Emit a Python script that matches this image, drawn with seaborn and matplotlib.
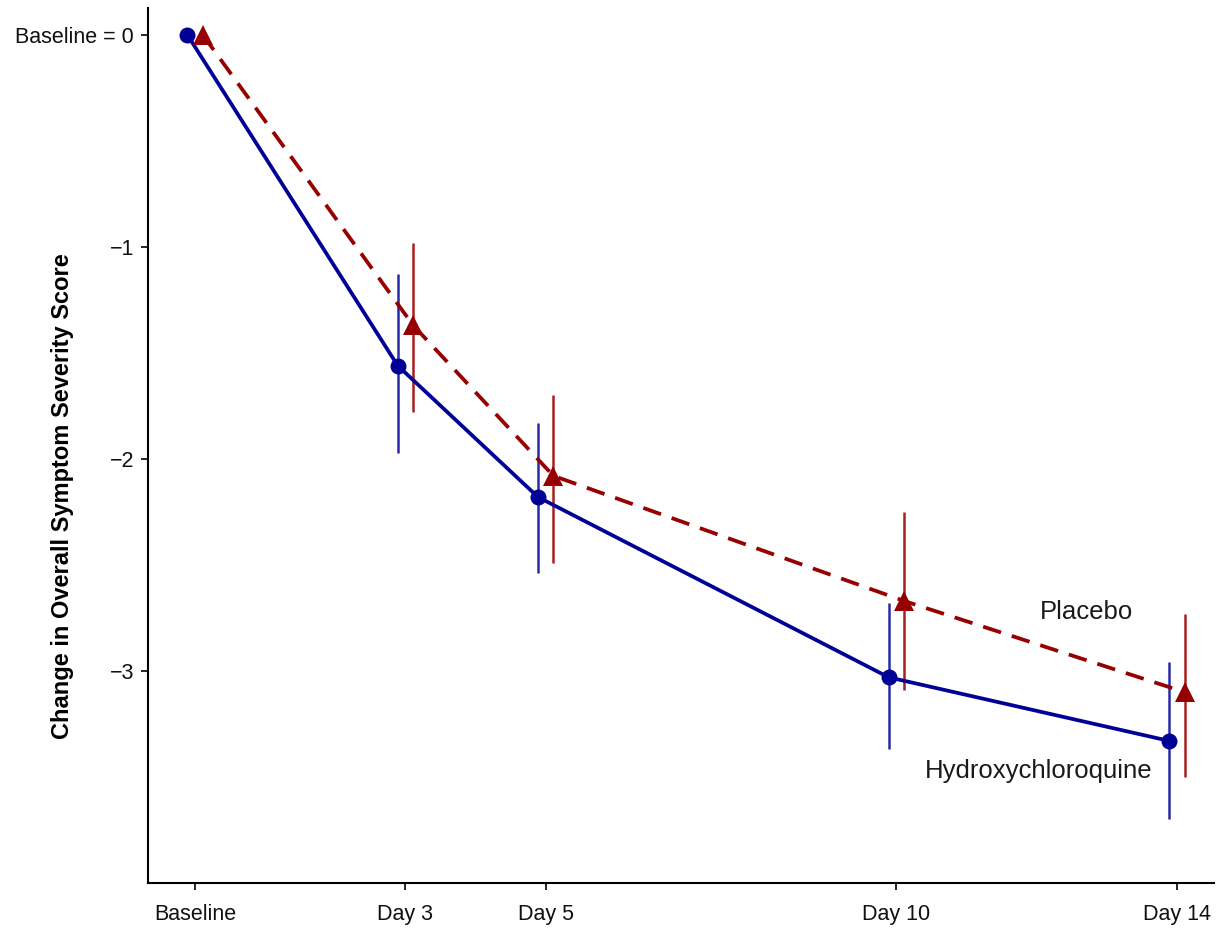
import numpy as np
import pandas as pd
import seaborn as sns
from matplotlib import pyplot as plt

# === DATA ===
days = [0, 3, 5, 10, 14]
day_labels = ['Baseline', 'Day 3', 'Day 5', 'Day 10', 'Day 14']

hcq_mean = [0.0, -1.56, -2.18, -3.03, -3.33]
hcq_low = [0.0, -1.97, -2.54, -3.37, -3.70]
hcq_high = [0.0, -1.13, -1.83, -2.68, -2.96]

pla_mean = [0.0, -1.37, -2.08, -2.67, -3.10]
pla_low = [0.0, -1.78, -2.49, -3.09, -3.50]
pla_high = [0.0, -0.98, -1.70, -2.25, -2.73]

groups = ['Hydroxychloroquine', 'Placebo']
offset = {'Hydroxychloroquine': -0.11, 'Placebo': 0.11}
colors = {'Hydroxychloroquine': '#000096', 'Placebo': '#960000'}
bar_colors = {'Hydroxychloroquine': '#2a2aa8', 'Placebo': '#a82020'}

frames = []
for g, m, lo, hi in [('Hydroxychloroquine', hcq_mean, hcq_low, hcq_high),
                     ('Placebo', pla_mean, pla_low, pla_high)]:
    frames.append(pd.DataFrame({'group': g, 'day': days, 'mean': m,
                                'low': lo, 'high': hi}))
df = pd.concat(frames, ignore_index=True)
df['x'] = df['day'] + df['group'].map(offset)

# === PLOT ===
sns.set_style('ticks')
plt.rcParams['font.family'] = ['Liberation Sans', 'DejaVu Sans']

fig = plt.figure(figsize=(12.17, 9.32), dpi=100)
ax = fig.add_axes([0.1216, 0.0526, 0.876, 0.939])

for g in groups:
    sub = df[df.group == g]
    ax.vlines(sub['x'][1:], sub['low'][1:], sub['high'][1:],
              color=bar_colors[g], lw=1.8, zorder=2)

sns.lineplot(data=df, x='x', y='mean', hue='group', style='group',
             hue_order=groups, style_order=groups, palette=colors,
             markers={'Hydroxychloroquine': 'o', 'Placebo': '^'},
             dashes={'Hydroxychloroquine': '', 'Placebo': (5, 3)},
             markersize=11.5, markeredgewidth=0, linewidth=2.7,
             legend=False, ax=ax, zorder=3)
for ln in ax.lines:
    if ln.get_marker() == '^':
        ln.set_markersize(15)

ax.text(12.71, -2.72, 'Placebo', fontsize=18.5, ha='center', va='center',
        color='#1a1a1a')
ax.text(12.03, -3.47, 'Hydroxychloroquine', fontsize=18.5,
        ha='center', va='center', color='#1a1a1a')

ax.set_xlim(-0.67, 14.53)
ax.set_ylim(-4.0, 0.127)
ax.set_xticks(days)
ax.set_xticklabels(day_labels, fontsize=15.5)
ax.set_yticks([0, -1, -2, -3])
ax.set_yticklabels(['Baseline = 0', '\u22121', '\u22122', '\u22123'],
                   fontsize=15.5)
ax.tick_params(length=5, width=1.2, pad=5, colors='black',
               labelcolor='#111111')
ax.tick_params(axis='x', pad=10)
ax.set_xlabel('')
ax.set_ylabel('Change in Overall Symptom Severity Score', fontsize=17,
              fontweight='bold', color='black')
ax.yaxis.set_label_coords(-0.069, 0.442)
for s in ['left', 'bottom']:
    ax.spines[s].set_linewidth(1.5)
    ax.spines[s].set_color('black')
sns.despine(ax=ax)

fig.savefig('out.png', dpi=100)
